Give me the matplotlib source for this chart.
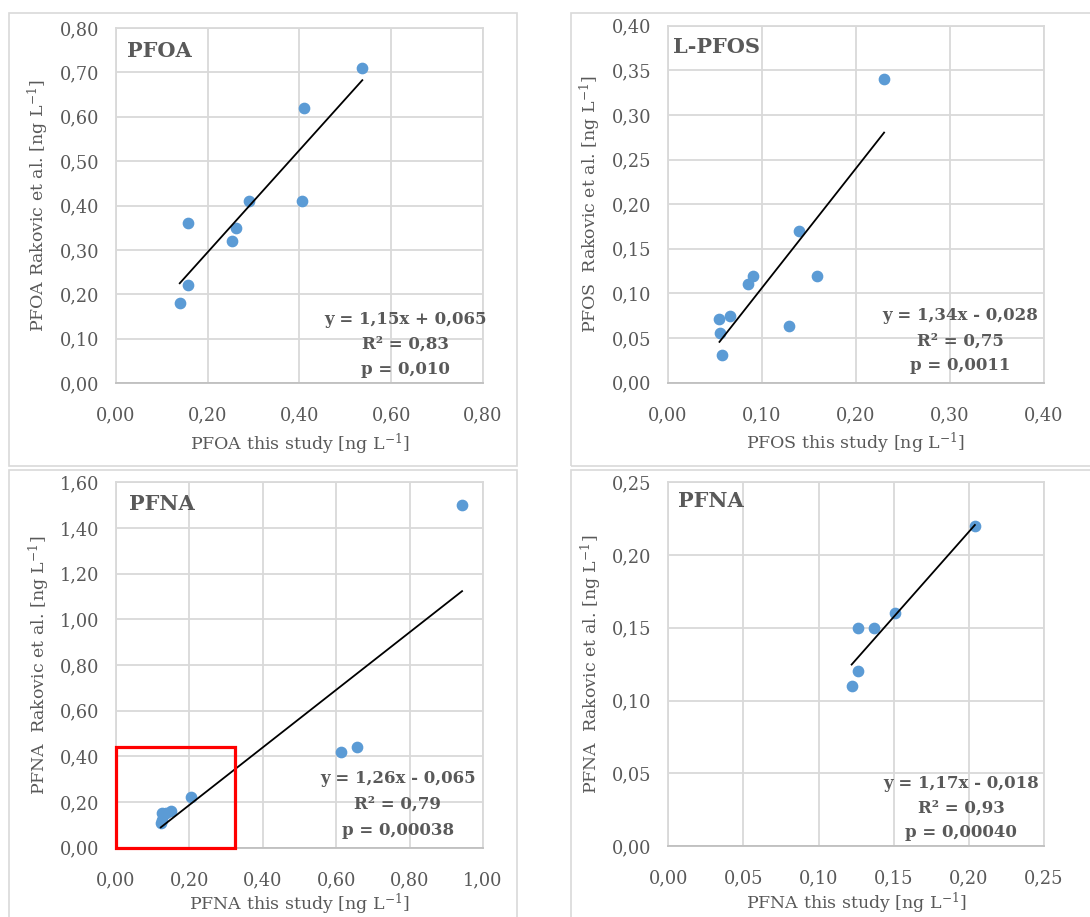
import numpy as np
import matplotlib.pyplot as plt
from matplotlib.patches import Rectangle
from matplotlib.ticker import FuncFormatter, MultipleLocator

plt.rcParams['font.family'] = ['DejaVu Serif']
plt.rcParams['mathtext.fontset'] = 'dejavuserif'

# data
pfoa_x = [0.537, 0.409, 0.289, 0.405, 0.156, 0.262, 0.254, 0.156, 0.139]
pfoa_y = [0.71, 0.62, 0.41, 0.41, 0.36, 0.35, 0.32, 0.22, 0.18]

pfos_x = [0.230, 0.140, 0.091, 0.085, 0.159, 0.066, 0.055, 0.056, 0.129, 0.058]
pfos_y = [0.34, 0.17, 0.12, 0.11, 0.12, 0.075, 0.071, 0.056, 0.064, 0.031]

pfna_x = [0.943, 0.658, 0.612, 0.204, 0.151, 0.137, 0.126, 0.126, 0.122]
pfna_y = [1.50, 0.44, 0.42, 0.22, 0.16, 0.15, 0.15, 0.12, 0.11]

pfna_low_x = [0.204, 0.151, 0.137, 0.126, 0.126, 0.122]
pfna_low_y = [0.22, 0.16, 0.15, 0.15, 0.12, 0.11]

slopes = [1.15, 1.34, 1.26, 1.17]
intercepts = [0.065, -0.028, -0.065, -0.018]
eq_texts = ['y = 1,15x + 0,065', 'y = 1,34x - 0,028', 'y = 1,26x - 0,065', 'y = 1,17x - 0,018']
r2_texts = ['R² = 0,83', 'R² = 0,75', 'R² = 0,79', 'R² = 0,93']
p_texts = ['p = 0,010', 'p = 0,0011', 'p = 0,00038', 'p = 0,00040']
titles = ['PFOA', 'L-PFOS', 'PFNA', 'PFNA']
xlabels = ['PFOA this study [ng L$^{\\mathregular{-1}}$]', 'PFOS this study [ng L$^{\\mathregular{-1}}$]',
           'PFNA this study [ng L$^{\\mathregular{-1}}$]', 'PFNA this study [ng L$^{\\mathregular{-1}}$]']
ylabels = ['PFOA Rakovic et al. [ng L$^{\\mathregular{-1}}$]', 'PFOS  Rakovic et al. [ng L$^{\\mathregular{-1}}$]',
           'PFNA  Rakovic et al. [ng L$^{\\mathregular{-1}}$]', 'PFNA  Rakovic et al. [ng L$^{\\mathregular{-1}}$]']
limits = [(0.8, 0.2, 0.8, 0.1), (0.4, 0.1, 0.4, 0.05), (1.0, 0.2, 1.6, 0.2), (0.25, 0.05, 0.25, 0.05)]

data = [(pfoa_x, pfoa_y), (pfos_x, pfos_y), (pfna_x, pfna_y), (pfna_low_x, pfna_low_y)]

positions = [[0.1064, 0.5823, 0.3367, 0.3871],
             [0.6126, 0.5827, 0.3452, 0.3893],
             [0.1064, 0.0756, 0.3367, 0.3985],
             [0.6131, 0.0774, 0.3447, 0.3966]]
text_x = [0.790, 0.777, 0.768, 0.779]
text_y = [(0.180, 0.110, 0.039), (0.187, 0.117, 0.047), (0.188, 0.120, 0.046), (0.173, 0.104, 0.036)]
title_pos = [(0.03, 0.935), (0.015, 0.941), (0.036, 0.94), (0.027, 0.949)]
xlabel_pads = [5, 5, 2, 2]

grey = '#595959'
grid_c = '#D9D9D9'
blue = '#5B9BD5'

fig = plt.figure(figsize=(10.9, 9.17), dpi=100)

# chart area borders
for (x0, y0, x1, y1) in [(9, 13, 517, 466), (571, 13, 1100, 466), (9, 470, 517, 930), (571, 470, 1100, 930)]:
    fig.patches.append(Rectangle((x0 / 1090, 1 - y1 / 917), (x1 - x0) / 1090, (y1 - y0) / 917,
                                 transform=fig.transFigure, fill=False, edgecolor=grid_c, linewidth=1.2))

fmt = FuncFormatter(lambda v, pos: ('%.2f' % v).replace('.', ','))

for i in range(4):
    ax = fig.add_axes(positions[i])
    xmax, xstep, ymax, ystep = limits[i]
    x, y = data[i]
    ax.set_xlim(0, xmax)
    ax.set_ylim(0, ymax)
    ax.xaxis.set_major_locator(MultipleLocator(xstep))
    ax.yaxis.set_major_locator(MultipleLocator(ystep))
    ax.xaxis.set_major_formatter(fmt)
    ax.yaxis.set_major_formatter(fmt)
    ax.grid(True, color=grid_c, linewidth=1.3, zorder=0)
    ax.set_axisbelow(True)
    for s in ax.spines.values():
        s.set_color(grid_c)
        s.set_linewidth(1.3)
    ax.spines['bottom'].set_color('#BFBFBF')
    ax.tick_params(length=0, labelsize=12.8, colors=grey)
    ax.tick_params(axis='x', pad=17)
    ax.tick_params(axis='y', pad=12)
    ax.scatter(x, y, s=55, color=blue, zorder=3, clip_on=False)
    xs = np.array([min(x), max(x)])
    ax.plot(xs, slopes[i] * xs + intercepts[i], color='black', linewidth=1.3, zorder=4)
    ax.set_xlabel(xlabels[i], fontsize=12.5, color=grey, labelpad=xlabel_pads[i])
    ax.set_ylabel(ylabels[i], fontsize=12.5, color=grey, labelpad=6)
    ax.text(title_pos[i][0], title_pos[i][1], titles[i], transform=ax.transAxes, fontsize=15,
            fontweight='bold', color=grey, ha='left', va='center')
    for t, ty in zip([eq_texts[i], r2_texts[i], p_texts[i]], text_y[i]):
        ax.text(text_x[i], ty, t, transform=ax.transAxes, fontsize=12, fontweight='bold',
                color=grey, ha='center', va='center')
    if i == 2:
        ax.add_patch(Rectangle((0, 0), 0.3245, 0.442, fill=False, edgecolor='red',
                               linewidth=2.3, zorder=5, clip_on=False))

fig.savefig('out.png', dpi=100)
